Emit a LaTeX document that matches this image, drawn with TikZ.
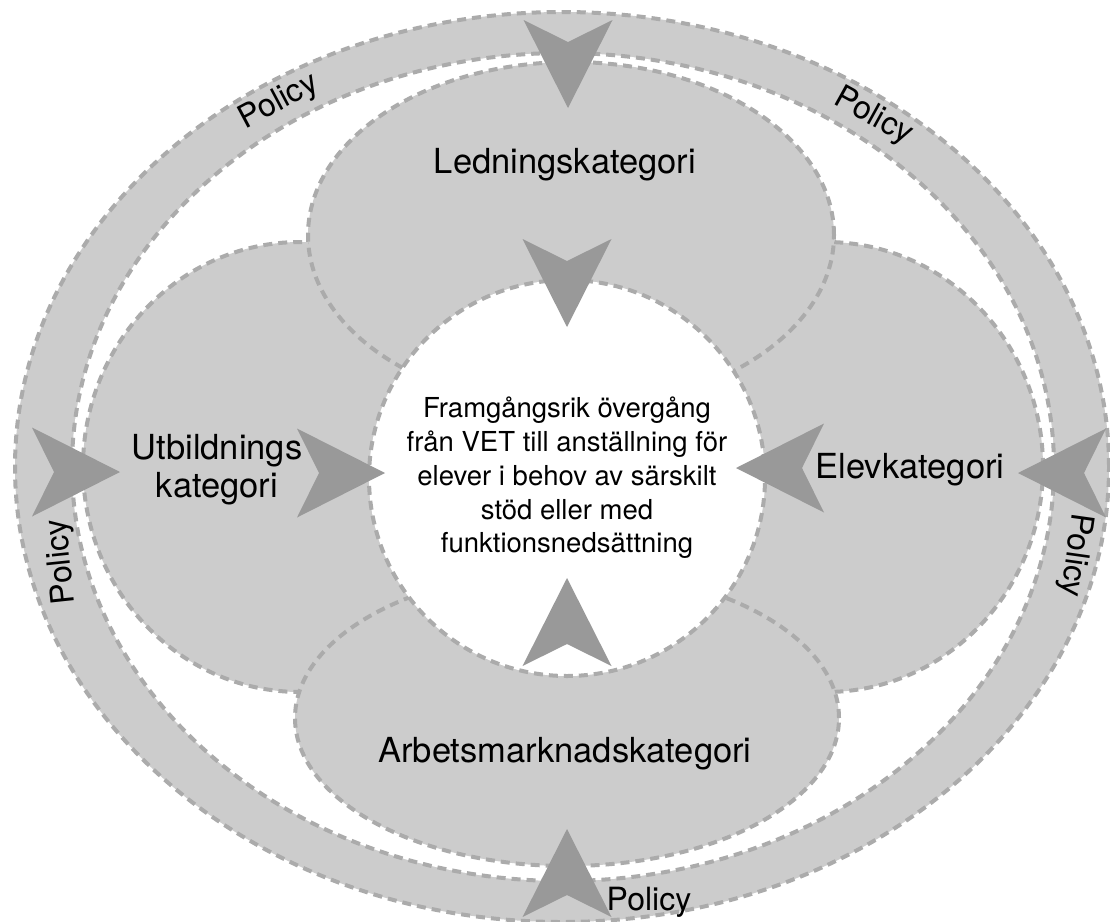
\documentclass[tikz,border=0pt]{standalone}
\usepackage{fontspec}
\setmainfont{TeX Gyre Heros}
\usetikzlibrary{shapes.geometric}
\definecolor{fyllgra}{HTML}{CCCCCC}
\definecolor{streckgra}{HTML}{ABABAB}
\definecolor{pilgra}{HTML}{999999}

\tikzset{
  ring/.style={ellipse, draw=streckgra, line width=4pt,
               dash pattern=on 9pt off 6pt, inner sep=0pt},
  kronblad/.style={ring, fill=fyllgra},
  etikett/.style={font=\fontsize{34.5}{38}\selectfont, align=center},
  policytext/.style={font=\fontsize{32}{36}\selectfont, inner sep=0pt},
  pil/.pic={\fill[pilgra] (0,0) -- (-88,-44.5) -- (-66,0) -- (-88,44.5) -- cycle;}
}

\begin{document}
\begin{tikzpicture}[x=1pt, y=-1pt]
    \useasboundingbox (0,0) rectangle (1110,921);
    % Yttre ring (policy)
    \node[kronblad, minimum width=1094pt, minimum height=910pt] (yttre) at (562,467) {};
    \node[ring, fill=white, minimum width=982pt, minimum height=828pt] (inre) at (563,467) {};
    % Kategorier
    \node[kronblad, minimum width=434pt, minimum height=450pt] (utbildning) at (300,467) {};
    \node[kronblad, minimum width=434pt, minimum height=450pt] (elev) at (826,467) {};
    \node[kronblad, minimum width=526pt, minimum height=346pt] (ledning) at (571,235) {};
    \node[kronblad, minimum width=544pt, minimum height=296pt] (arbetsmarknad) at (567,718) {};
    % Mitten
    \node[ring, circle, fill=white, minimum size=396pt] (mal) at (567,478) {};
    % Pilar
    \foreach \x/\y/\r in {568/108/-90, 567/327/-90, 120/472/0, 385/473/0,
                          1018/473/180, 736/468/180, 567/578/90, 567/829/90}
      \pic[rotate=\r] at (\x,\y) {pil};
    % Texter
    \node[font=\fontsize{27.5}{33.7}\selectfont, align=center] (maltext) at (mal.center)
      {Framgångsrik övergång\\från VET till anställning för\\elever i behov av särskilt\\stöd eller med\\funktionsnedsättning};
    \node[etikett, anchor=base] (ledningtext) at (565,173) {Ledningskategori};
    \node[etikett, anchor=base] (arbetstext) at (565,762) {Arbetsmarknadskategori};
    \node[etikett, anchor=base] (elevtext) at (910,478) {Elevkategori};
    \node[etikett] (utbtext) at (217,470) {Utbildnings\\kategori};
    % Policy
    \node[policytext, rotate=28] (policyvo) at (279,102) {Policy};
    \node[policytext, rotate=-29] (policyho) at (873,117) {Policy};
    \node[policytext, rotate=96] (policyv) at (62,562) {Policy};
    \node[policytext, rotate=-98] (policyh) at (1075,555) {Policy};
    \node[policytext, anchor=base] (policyn) at (649,910) {Policy};
\end{tikzpicture}
\end{document}
